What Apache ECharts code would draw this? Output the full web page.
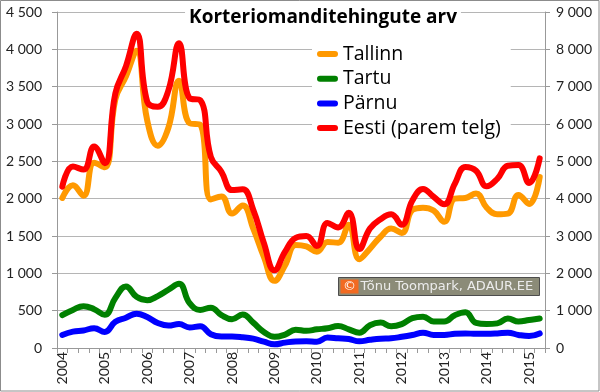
<!DOCTYPE html>
<html>
<head>
<meta charset="utf-8">
<script src="https://cdn.jsdelivr.net/npm/echarts@6/dist/echarts.min.js"></script>
<style>
html,body{margin:0;padding:0;background:#fff;}
#c{width:600px;height:392px;}
</style>
</head>
<body>
<div id="c"></div>
<script>
// ---- data ----
const years = ['2004','2005','2006','2007','2008','2009','2010','2011','2012','2013','2014','2015'];
const quarters = ['I','II','III','IV'];
const categories = [];
years.forEach(y => quarters.forEach(q => categories.push(y + ' ' + q)));
categories.length = 46; // 2004 I ... 2015 II

const tallinn = [2010,2180,2040,2480,2420,3330,3640,3980,3050,2710,2950,3580,3010,2990,1990,2030,1800,1910,1600,1220,900,1110,1380,1360,1290,1420,1410,1650,1190,1330,1490,1600,1540,1850,1880,1840,1690,2000,2010,2070,1880,1790,1800,2050,1930,2290];
const tartu = [440,510,560,520,445,670,825,685,640,695,780,860,600,510,540,440,385,450,340,215,150,180,245,230,250,265,295,250,205,305,340,290,320,400,420,355,355,440,480,335,320,330,395,355,375,395];
const parnu = [175,220,235,265,215,350,405,460,415,335,300,320,275,290,185,155,155,145,125,85,50,72,88,90,85,140,130,120,90,110,125,130,150,175,205,175,175,190,195,190,190,195,205,175,160,195];
const eesti = [4320,4860,4780,5400,4950,6820,7550,8420,6600,6460,6900,8160,6690,6640,5120,4720,4230,4250,3700,2810,2080,2580,2950,3000,2730,3350,3230,3620,2650,3200,3450,3580,3300,3950,4260,4050,3850,4400,4850,4750,4330,4530,4880,4900,4420,5080];

const seriesNames = ['Tallinn','Tartu','Pärnu','Eesti (parem telg)'];
const seriesColors = ['#FF9900','#008000','#0000FF','#FF0000'];
const titleText = 'Korteriomanditehingute arv';
const creditText = 'Tõnu Toompark, ADAUR.EE';

const fmt = v => String(v).replace(/\B(?=(\d{3})+(?!\d))/g, ' ');
const FONT = 'Lato, "Open Sans", sans-serif';
const WFONT = '"Open Sans", Lato, sans-serif';
const pill = 'path://M3,0 H18 A3,3 0 0 1 18,6 H3 A3,3 0 0 1 3,0 Z';

const chart = echarts.init(document.getElementById('c'), null, {renderer:'canvas'});
const mk = (i, data, axis) => ({
  name: seriesNames[i], type:'line', data: data, yAxisIndex: axis,
  smooth: 0.45, symbol:'none', showSymbol:false,
  lineStyle:{width:6, color: seriesColors[i], cap:'round', join:'round'},
  itemStyle:{color: seriesColors[i]},
  animation:false
});

chart.setOption({
  animation:false,
  backgroundColor:'#fff',
  title:{
    text: titleText, left: 319, top: 5, textAlign:'center',
    backgroundColor:'#fff', padding:[3,4,4,4],
    textStyle:{fontFamily:WFONT, fontSize:19, fontWeight:'bold', color:'#000'}
  },
  legend:{
    orient:'vertical', left:312, top:40,
    backgroundColor:'#fff', padding:[4,10,6,5],
    itemWidth:21, itemHeight:6, itemGap:4.7, icon:pill,
    textStyle:{fontFamily:WFONT, fontSize:19.5, color:'#000', lineHeight:20},
    data: seriesNames
  },
  grid:{left:57, right:55, top:12, bottom:44, containLabel:false},
  xAxis:{
    type:'category', data: categories, boundaryGap:true,
    axisLine:{show:true, lineStyle:{color:'#999', width:1}},
    axisTick:{show:true, interval:0, length:5, lineStyle:{color:'#999'}},
    axisLabel:{interval:3, rotate:90, margin:4, fontFamily:FONT, fontSize:14, color:'#222',
      formatter: v => v.slice(0,4)},
    splitLine:{show:false}
  },
  yAxis:[
    {type:'value', position:'left', min:0, max:4500, interval:500,
     axisLine:{show:true, lineStyle:{color:'#999'}},
     axisTick:{show:true, length:5, lineStyle:{color:'#999'}},
     axisLabel:{margin:15, fontFamily:FONT, fontSize:14, color:'#222', formatter: fmt},
     splitLine:{show:true, lineStyle:{color:'#b5b5b5', width:1}}},
    {type:'value', position:'right', min:0, max:9000, interval:1000,
     axisLine:{show:true, lineStyle:{color:'#999'}},
     axisTick:{show:true, length:5, lineStyle:{color:'#999'}},
     axisLabel:{margin:11, fontFamily:FONT, fontSize:14, color:'#222', formatter: fmt},
     splitLine:{show:false}}
  ],
  series:[ mk(0,tallinn,0), mk(1,tartu,0), mk(2,parnu,0), mk(3,eesti,1) ],
  graphic:[
    {type:'rect', shape:{x:0.5,y:0.5,width:598.5,height:390.5}, style:{fill:'none', stroke:'#8c8c8c', lineWidth:1}, z:100},
    {type:'group', left:338, top:277, z:50, children:[
      {type:'rect', shape:{x:0,y:0,width:201,height:18}, style:{fill:'#8b8b78', stroke:'#4d4d4d', lineWidth:1}},
      {type:'rect', shape:{x:2,y:2,width:18,height:14}, style:{fill:'#F26A21'}},
      {type:'text', style:{x:11, y:9.5, text:'©', fill:'#fff', font:'13px "DejaVu Sans"', textAlign:'center', textVerticalAlign:'middle'}},
      {type:'text', style:{x:22, y:9.5, text:creditText, fill:'#ececec', font:'13px "DejaVu Sans"', textVerticalAlign:'middle'}}
    ]}
  ]
});
</script>
</body>
</html>
